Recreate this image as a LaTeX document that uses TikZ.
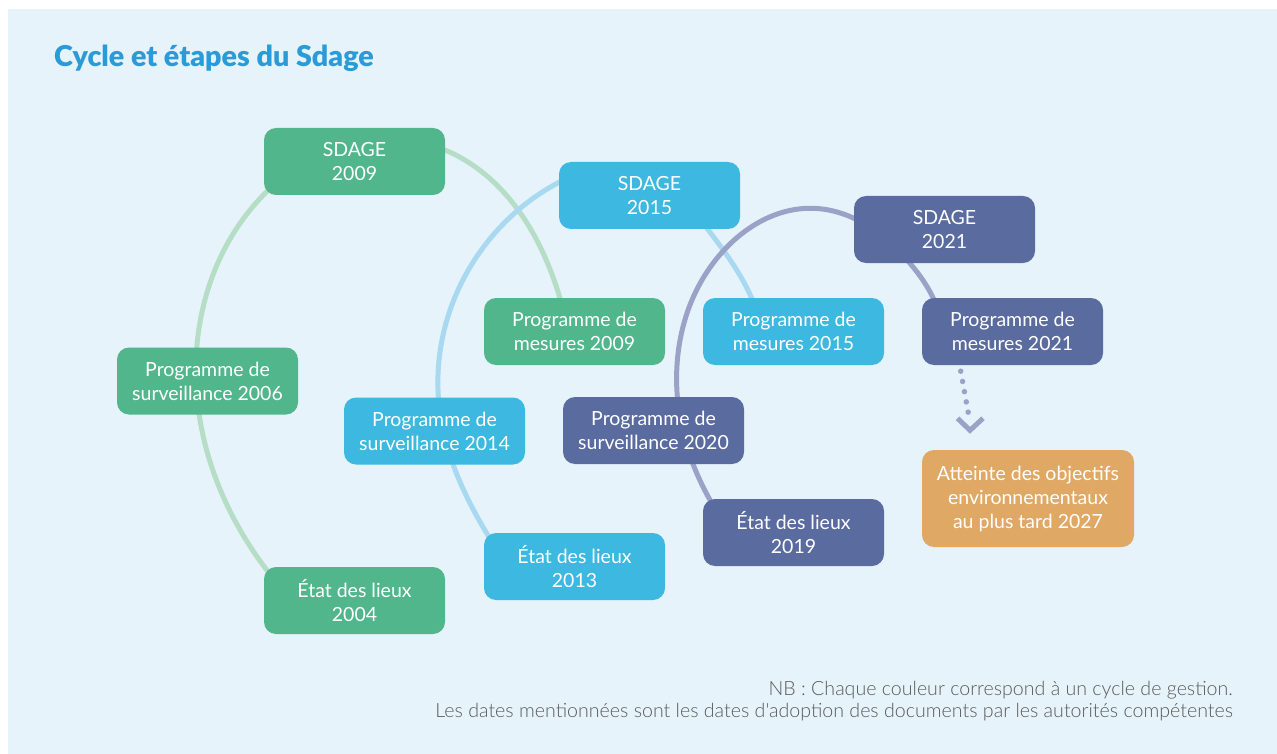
\documentclass[tikz,border=0pt]{standalone}
\usepackage{fontspec}
\setmainfont{Lato}
\newfontfamily\notefont{Lato}[UprightFont=* Light]
\newfontfamily\titlefont{Lato}[UprightFont=* Black]
\usetikzlibrary{calc,hobby}
\definecolor{bgblue}{HTML}{E6F3FB}
\definecolor{cgreen}{HTML}{52B68C}
\definecolor{ccyan}{HTML}{3DB8E0}
\definecolor{cnavy}{HTML}{5A6B9F}
\definecolor{corange}{HTML}{E0A865}
\definecolor{garc}{HTML}{B6DEC7}
\definecolor{barc}{HTML}{A8D9F0}
\definecolor{parc}{HTML}{9CA1C7}
\definecolor{titleblue}{HTML}{2A9BD7}
\definecolor{notegray}{HTML}{5A5A5A}
\pgfdeclarelayer{bg}
\pgfdeclarelayer{arcs}
\pgfsetlayers{bg,arcs,main}
\begin{document}
\begin{tikzpicture}[x=1pt,y=-1pt,
  box/.style={rounded corners=12pt, minimum width=181pt, minimum height=67pt,
    inner sep=0pt, align=center, text=white, font=\fontsize{19.5}{24}\selectfont},
  gbox/.style={box, fill=cgreen},
  cbox/.style={box, fill=ccyan},
  nbox/.style={box, fill=cnavy},
  arcline/.style={line width=5pt, line cap=round},
  dotline/.style={draw=parc, line width=5.5pt, line cap=round, dash pattern=on 0pt off 10.4pt},
  chevron/.style={draw=parc, line width=5pt, miter limit=10},
  notetext/.style={text=notegray, font=\notefont\fontsize{19.6}{22}\selectfont, inner sep=0pt}
]
\useasboundingbox (0,0) rectangle (1277,754);
\begin{pgfonlayer}{bg}
  \fill[bgblue] (8,9) rectangle (1277,754);
\end{pgfonlayer}

\node[anchor=base west, inner sep=0pt, text=titleblue, font=\titlefont\fontsize{28.7}{32}\selectfont] (title) at (54,67) {Cycle et étapes du Sdage};

% green cycle
\node[gbox] (s09) at (354.5,161.5) {SDAGE\\2009};
\node[gbox] (pm09) at (574.5,331.5) {Programme de\\mesures 2009};
\node[gbox] (ps06) at (207.5,381) {Programme de\\surveillance 2006};
\node[gbox] (e04) at (354.5,600.5) {État des lieux\\2004};
% blue cycle
\node[cbox] (s15) at (649.5,195.5) {SDAGE\\2015};
\node[cbox] (pm15) at (793.5,331.5) {Programme de\\mesures 2015};
\node[cbox] (ps14) at (434.5,431) {Programme de\\surveillance 2014};
\node[cbox] (e13) at (574.5,566.5) {État des lieux\\2013};
% navy cycle
\node[nbox] (s21) at (944.5,229.5) {SDAGE\\2021};
\node[nbox] (pm21) at (1012.5,331.5) {Programme de\\mesures 2021};
\node[nbox] (ps20) at (653.5,430.5) {Programme de\\surveillance 2020};
\node[nbox] (e19) at (793.5,532.5) {État des lieux\\2019};
% goal
\node[box, fill=corange, minimum width=212pt, minimum height=97pt] (att) at (1028,498.5)
  {Atteinte des objectifs\\environnementaux\\au plus tard 2027};

\begin{pgfonlayer}{arcs}
  \draw[arcline, garc] (292,600) to[curve through={(268,571.7) (196,381)
    (266.7,191.7) (375,139) (445,150) (560,298.3)}] (568,330);
  \draw[arcline, barc] (505,562) to[curve through={(486.7,533.3) (439,405)
    (491.7,236.7) (558.3,182.7) (630,168) (708.3,230) (751.7,298.3)}] (762,330);
  \draw[arcline, parc] (728,528) to[curve through={(710,500) (677,392)
    (726,248) (813.3,208.3) (854,218.3) (910,263.3) (933.3,298.3)}] (943,330);
\end{pgfonlayer}

% dotted arrow
\coordinate (dA) at ($(pm21.south)+(-51.8,6)$);
\coordinate (dB) at ($(att.north)+(-58,-27.5)$);
\draw[dotline] (dA) -- (dB);
\draw[chevron] ($(dB)+(-12.5,-4)$) -- ($(dB)+(0,8)$) -- ($(dB)+(13,-4)$);

% notes
\node[notetext, anchor=base east] (nb1) at (1233,695) {NB : Chaque couleur correspond à un cycle de gestion.};
\node[notetext, anchor=base east] (nb2) at (1233,717) {Les dates mentionnées sont les dates d'adoption des documents par les autorités compétentes};
\end{tikzpicture}
\end{document}
